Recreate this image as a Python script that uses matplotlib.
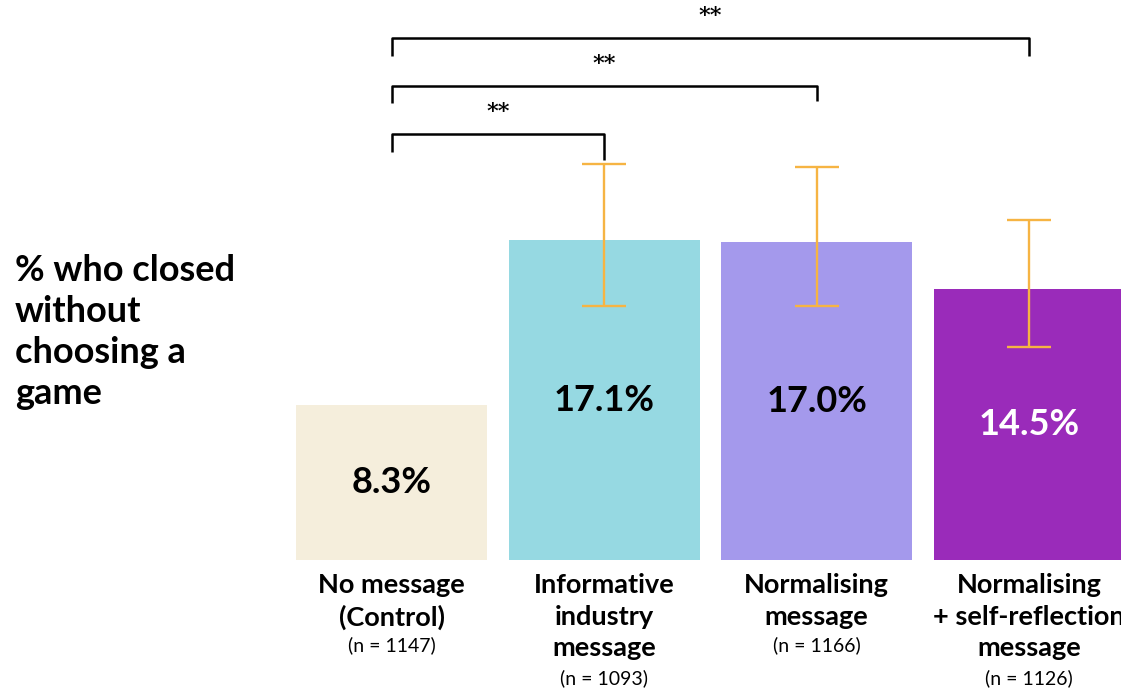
import matplotlib
matplotlib.use("Agg")
import matplotlib.pyplot as plt

plt.rcParams['font.family'] = ['Lato', 'DejaVu Sans']

# data
groups = ["No message\n(Control)", "Informative\nindustry\nmessage",
          "Normalising\nmessage", "Normalising\n+ self-reflection\nmessage"]
n_sizes = [1147, 1093, 1166, 1126]
pct = [8.3, 17.1, 17.0, 14.5]
ci_low = [None, 13.6, 13.6, 11.4]
ci_high = [None, 21.2, 21.0, 18.2]
bar_colors = ["#F5EEDC", "#96D9E2", "#A499EC", "#9A2BBA"]
label_colors = ["black", "black", "black", "white"]
# significance brackets: (from, to, star text)
comparisons = [(0, 1, "**"), (0, 2, "**"), (0, 3, "**")]

W, H = 1121, 689
fig = plt.figure(figsize=(W / 100, H / 100), dpi=100)
px_per_unit_x = 212.5
px_per_pct = 18.7
ax = fig.add_axes([296 / W, (H - 560) / H, (W - 296) / W, 560 / H])
ax.set_xlim(-0.45, -0.45 + (W - 296) / px_per_unit_x)
ax.set_ylim(0, 560 / px_per_pct)
ax.axis("off")

x = list(range(len(pct)))
ax.bar(x, pct, width=0.9, color=bar_colors, zorder=1)

# confidence intervals
for i in x:
    if ci_low[i] is None:
        continue
    mid = pct[i]
    ax.errorbar(i, mid, yerr=[[mid - ci_low[i]], [ci_high[i] - mid]],
                fmt="none", ecolor="#F6B443", elinewidth=1.7,
                capsize=15.5, capthick=1.7, zorder=3)

for i in x:
    ax.text(i, pct[i] / 2, f"{pct[i]:.1f}%", ha="center", va="center",
            fontsize=26, fontweight="bold", color=label_colors[i], zorder=4)

# group names and sample sizes below the bars
for i in x:
    ax.text(i, -0.72, groups[i], ha="center", va="top", fontsize=19.5,
            fontweight="bold", linespacing=1.36, clip_on=False)
    n_lines = groups[i].count("\n") + 1
    ny = -4.55 if n_lines == 2 else -6.31
    ax.text(i, ny, f"(n = {n_sizes[i]})", ha="center", va="center",
            fontsize=14, clip_on=False)

# significance brackets
bracket_tops = [22.78, 25.35, 27.91]
left_ends = [21.82, 24.44, 26.95]
right_ends = [21.39, 24.55, 26.95]
for k, (a, b, stars) in enumerate(comparisons):
    top = bracket_tops[k]
    ax.plot([a, a, b, b], [left_ends[k], top, top, right_ends[k]],
            color="black", lw=1.8, clip_on=False, solid_capstyle="butt")
    ax.text((a + b) / 2, top + 1.2, stars, ha="center", va="center",
            fontsize=16, fontweight="bold", family="DejaVu Serif", clip_on=False)

fig.text(15 / W, 1 - 254 / H, "% who closed\nwithout\nchoosing a\ngame",
         ha="left", va="top", fontsize=26, fontweight="bold", linespacing=1.3)

fig.savefig("out.png", dpi=100)
